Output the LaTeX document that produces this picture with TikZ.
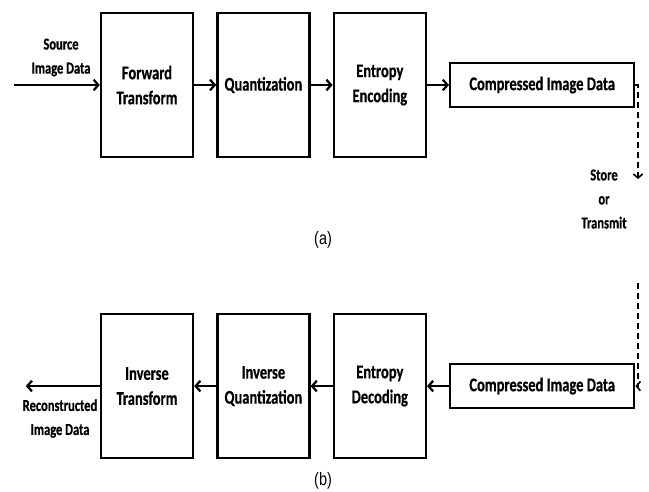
\documentclass[tikz,border=0pt]{standalone}
\usepackage{fontspec}
\setmainfont{Carlito}[FakeStretch=0.75, BoldFeatures={FakeBold=0.6}]
\newfontfamily\capfont{Liberation Sans}[FakeStretch=0.8]
\usepackage{tikz}
\usetikzlibrary{arrows.meta, positioning}
\tikzstyle{arrow} = [line width=1.7pt, -{Straight Barb[length=3.5pt,width=8pt]}]
\tikzstyle{dasharrow} = [line width=1.2pt, dash pattern=on 4.5pt off 3pt, -{Straight Barb[length=3pt,width=7pt]}]

\begin{document}
\begin{tikzpicture}[x=0.75pt, y=-0.75pt,
    block/.style={rectangle, draw, line width=1.8pt, minimum width=69pt, minimum height=108pt, align=center, font=\fontsize{14.5}{18.75}\selectfont\bfseries},
    datablock/.style={block, minimum width=138pt, minimum height=33pt},
    iolabel/.style={align=center, font=\fontsize{12.5}{18}\selectfont\bfseries},
    caption/.style={font=\capfont\fontsize{13.5}{16}\selectfont},
    node distance=16.5pt and 16.5pt
  ]
    \useasboundingbox (0,0) rectangle (649,492);

    % (a) Encoder
    \node[block] (fwd) at (147,85) {Forward\\Transform};
    \node[block, right=of fwd] (quant) {Quantization};
    \node[block, right=of quant] (enc) {Entropy\\Encoding};
    \node[datablock, right=of enc] (compA) {Compressed Image Data};
    \coordinate[left=64.5pt of fwd.west] (src);
    \coordinate (storeA) at (638,179);
    \node[iolabel] (srclbl) at (61,57.5) {Source\\Image Data};
    \node[iolabel] (store) at (604,199) {Store\\or\\Transmit};
    \node[caption] (capA) at (323,240) {(a)};

    % Arrows for (a)
    \draw[arrow] (src) -- (fwd);
    \draw[arrow] (fwd) -- (quant);
    \draw[arrow] (quant) -- (enc);
    \draw[arrow] (enc) -- (compA);
    \draw[dasharrow] (compA.east) -| (storeA);

    % (b) Decoder
    \node[block, below=116pt of fwd] (invT) {Inverse\\Transform};
    \node[block, right=of invT] (invQ) {Inverse\\Quantization};
    \node[block, right=of invQ] (dec) {Entropy\\Decoding};
    \node[datablock, right=of dec] (compB) {Compressed Image Data};
    \coordinate[left=55.5pt of invT.west] (out);
    \coordinate (transB) at (638,283);
    \node[iolabel] (outlbl) at (60,418.5) {Reconstructed\\Image Data};
    \node[caption] (capB) at (323,481) {(b)};

    % Arrows for (b)
    \draw[dasharrow] (transB) |- (compB.east);
    \draw[arrow] (compB) -- (dec);
    \draw[arrow] (dec) -- (invQ);
    \draw[arrow] (invQ) -- (invT);
    \draw[arrow] (invT) -- (out);
  \end{tikzpicture}
\end{document}
